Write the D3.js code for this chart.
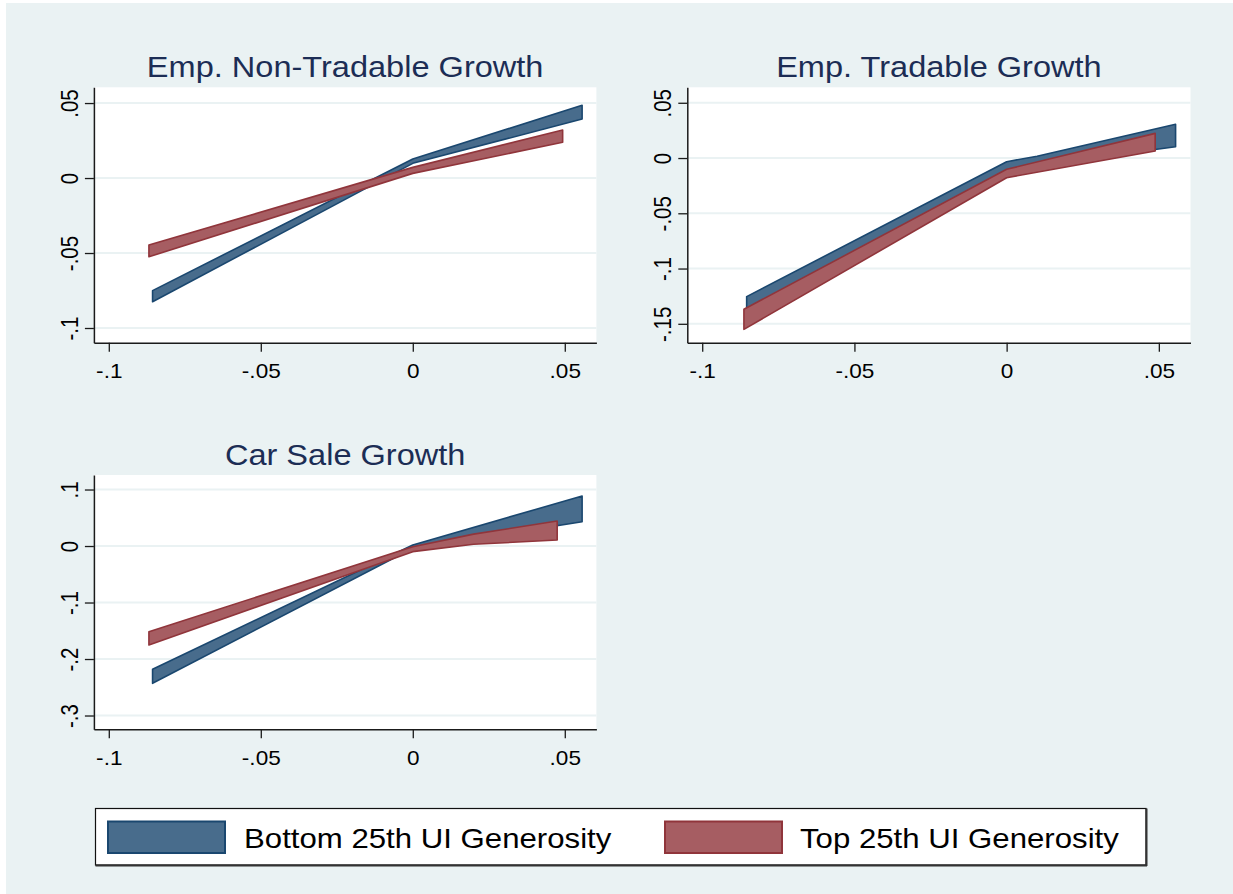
<!DOCTYPE html>
<html><head><meta charset="utf-8">
<script src="https://cdn.jsdelivr.net/npm/d3@7"></script>
<style>body{margin:0;background:#fff}svg{display:block}</style>
</head><body>
<svg id="c" width="1233" height="894"></svg>
<script>
// ---------- data ----------
const panelTitles = ["Emp. Non-Tradable Growth", "Emp. Tradable Growth", "Car Sale Growth"];
const seriesNames = ["Bottom 25th UI Generosity", "Top 25th UI Generosity"];

const xTicks = [-0.1, -0.05, 0, 0.05];
const xTickLabels = ["-.1", "-.05", "0", ".05"];

const yTicksNonTrad = [-0.1, -0.05, 0, 0.05];
const yLabelsNonTrad = ["-.1", "-.05", "0", ".05"];
const yTicksTrad = [-0.15, -0.1, -0.05, 0, 0.05];
const yLabelsTrad = ["-.15", "-.1", "-.05", "0", ".05"];
const yTicksCar = [-0.3, -0.2, -0.1, 0, 0.1];
const yLabelsCar = ["-.3", "-.2", "-.1", "0", ".1"];

// Emp. Non-Tradable Growth
const nonTradBottomX  = [-0.0856, 0, 0.0557];
const nonTradBottomLo = [-0.0825, 0.0098, 0.0393];
const nonTradBottomHi = [-0.0751, 0.0127, 0.0485];
const nonTradTopX  = [-0.0868, 0, 0.0493];
const nonTradTopLo = [-0.0525, 0.0031, 0.0238];
const nonTradTopHi = [-0.0447, 0.0071, 0.0320];

// Emp. Tradable Growth
const tradBottomX  = [-0.0854, 0, 0.010, 0.0555];
const tradBottomLo = [-0.1400, -0.0108, -0.0065, 0.0102];
const tradBottomHi = [-0.1254, -0.0033, 0.0016, 0.0305];
const tradTopX  = [-0.0863, 0, 0.0488];
const tradTopLo = [-0.1550, -0.0178, 0.0063];
const tradTopHi = [-0.1368, -0.0102, 0.0223];

// Car Sale Growth
const carBottomX  = [-0.0856, 0, 0.0557];
const carBottomLo = [-0.2430, -0.0040, 0.0430];
const carBottomHi = [-0.2182, 0.0018, 0.0885];
const carTopX  = [-0.0868, 0, 0.020, 0.0475];
const carTopLo = [-0.1752, -0.0100, 0.0030, 0.0106];
const carTopHi = [-0.1517, -0.0012, 0.0210, 0.0442];

// ---------- layout / style ----------
const SX = 1.13; // horizontal glyph stretch of the original rendering
const FONT = "'Liberation Sans', Arial, Helvetica, sans-serif";
const colors = [
  {fill: "rgb(72,108,140)", stroke: "rgb(26,71,111)"},
  {fill: "rgb(166,93,98)", stroke: "rgb(144,53,59)"}
];
const xDomain = [-0.1049, 0.0604];

function zipBand(xs, lo, hi) { return xs.map((x, i) => ({x: x, lo: lo[i], hi: hi[i]})); }

const panels = [
  {title: panelTitles[0], left: 93.9, right: 596.4, top: 87.3, bottom: 342.7, yDomain: [-0.1098, 0.0605],
   yTicks: yTicksNonTrad, yLabels: yLabelsNonTrad,
   bands: [zipBand(nonTradBottomX, nonTradBottomLo, nonTradBottomHi), zipBand(nonTradTopX, nonTradTopLo, nonTradTopHi)]},
  {title: panelTitles[1], left: 687.3, right: 1190.5, top: 87.3, bottom: 342.7, yDomain: [-0.1671, 0.0640],
   yTicks: yTicksTrad, yLabels: yLabelsTrad,
   bands: [zipBand(tradBottomX, tradBottomLo, tradBottomHi), zipBand(tradTopX, tradTopLo, tradTopHi)]},
  {title: panelTitles[2], left: 93.9, right: 596.4, top: 475, bottom: 729.3, yDomain: [-0.3244, 0.1257],
   yTicks: yTicksCar, yLabels: yLabelsCar,
   bands: [zipBand(carBottomX, carBottomLo, carBottomHi), zipBand(carTopX, carTopLo, carTopHi)]}
];

const svg = d3.select("#c");
svg.append("rect").attr("x", 6).attr("y", 3).attr("width", 1227).attr("height", 891).attr("fill", "#eaf2f3");

panels.forEach(p => {
  const x = d3.scaleLinear().domain(xDomain).range([p.left, p.right]);
  const y = d3.scaleLinear().domain(p.yDomain).range([p.bottom, p.top]);
  const g = svg.append("g");

  g.append("rect").attr("x", p.left).attr("y", p.top)
    .attr("width", p.right - p.left).attr("height", p.bottom - p.top).attr("fill", "#fff");

  // gridlines
  g.selectAll("line.grid").data(p.yTicks).join("line").attr("class", "grid")
    .attr("x1", p.left).attr("x2", p.right)
    .attr("y1", d => y(d)).attr("y2", d => y(d))
    .attr("stroke", "#eaf2f3").attr("stroke-width", 2);

  // bands
  const area = d3.area().x(d => x(d.x)).y0(d => y(d.lo)).y1(d => y(d.hi));
  p.bands.forEach((b, i) => {
    g.append("path").datum(b).attr("d", area)
      .attr("fill", colors[i].fill).attr("stroke", colors[i].stroke)
      .attr("stroke-width", 1.6).attr("stroke-linejoin", "round");
  });

  // x axis
  const xa = g.append("g").attr("transform", `translate(0,${p.bottom})`)
    .call(d3.axisBottom(x).tickValues(xTicks).tickFormat((d, i) => xTickLabels[i]).tickSize(9).tickSizeOuter(0));
  xa.select(".domain").attr("stroke", "#1a1a1a").attr("stroke-width", 1.5);
  xa.selectAll(".tick line").attr("stroke", "#1a1a1a").attr("stroke-width", 1.3);
  xa.selectAll(".tick text").attr("y", null).attr("dy", null).attr("x", null)
    .attr("transform", `translate(0,35.5) scale(${SX},1)`)
    .attr("font-family", FONT).attr("font-size", 20).attr("fill", "#000").attr("text-anchor", "middle");

  // y axis
  const ya = g.append("g").attr("transform", `translate(${p.left},0)`)
    .call(d3.axisLeft(y).tickValues(p.yTicks).tickFormat((d, i) => p.yLabels[i]).tickSize(9).tickSizeOuter(0));
  ya.select(".domain").attr("stroke", "#1a1a1a").attr("stroke-width", 1.5);
  ya.selectAll(".tick line").attr("stroke", "#1a1a1a").attr("stroke-width", 1.3);
  ya.selectAll(".tick text").attr("y", null).attr("dy", null).attr("x", null)
    .attr("transform", `translate(-16.4,0) scale(1.2,1) rotate(-90)`)
    .attr("font-family", FONT).attr("font-size", 20.5).attr("fill", "#000").attr("text-anchor", "middle");

  // title
  g.append("text").attr("transform", `translate(${(p.left + p.right) / 2},${p.top - 10.5}) scale(${SX},1)`)
    .attr("text-anchor", "middle").attr("font-family", FONT).attr("font-size", 28.8)
    .attr("fill", "rgb(28,45,85)").text(p.title);
});

// legend
const lg = svg.append("g");
lg.append("rect").attr("x", 95.5).attr("y", 808.5).attr("width", 1050.5).attr("height", 56.5)
  .attr("fill", "#fff").attr("stroke", "#111").attr("stroke-width", 1.2);
lg.append("line").attr("x1", 95.5).attr("x2", 1147).attr("y1", 865.5).attr("y2", 865.5)
  .attr("stroke", "#333").attr("stroke-width", 2);
lg.append("line").attr("x1", 1146.5).attr("x2", 1146.5).attr("y1", 808.5).attr("y2", 866)
  .attr("stroke", "#333").attr("stroke-width", 2);
const legendItems = [{sx: 108, tx: 244}, {sx: 665, tx: 800}];
seriesNames.forEach((name, i) => {
  lg.append("rect").attr("x", legendItems[i].sx).attr("y", 821.5).attr("width", 117).attr("height", 31.5)
    .attr("fill", colors[i].fill).attr("stroke", colors[i].stroke).attr("stroke-width", 2);
  lg.append("text").attr("transform", `translate(${legendItems[i].tx},847.7) scale(${SX},1)`)
    .attr("font-family", FONT).attr("font-size", 27.6).attr("fill", "#000").text(name);
});
</script>
</body></html>
